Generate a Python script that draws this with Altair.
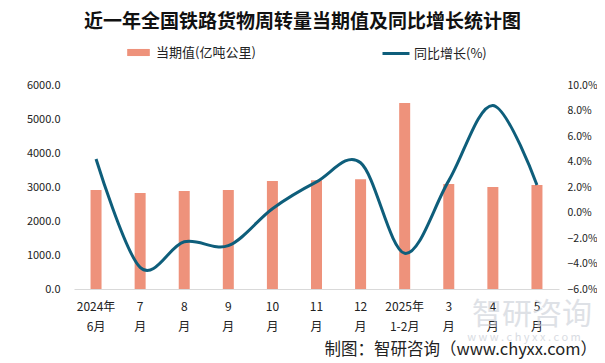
import altair as alt
import pandas as pd

categories = ["2024年|6月", "7|月", "8|月", "9|月", "10|月", "11|月", "12|月",
              "2025年|1-2月", "3|月", "4|月", "5|月"]
volume = [2910, 2820, 2880, 2910, 3180, 3200, 3230, 5470, 3090, 3000, 3060]
growth = [4.2, -4.3, -2.3, -2.6, 0.3, 2.4, 3.9, -3.2, 2.5, 8.4, 2.15]
vol_ticks = [0, 1000, 2000, 3000, 4000, 5000, 6000]
pct_ticks = [-6, -4, -2, 0, 2, 4, 6, 8, 10]

series_bar = "当期值(亿吨公里)"
series_line = "同比增长(%)"
title_text = "近一年全国铁路货物周转量当期值及同比增长统计图"
footer_text = "制图：智研咨询（www.chyxx.com）"

FONT = "Noto Sans CJK SC"
BAR = "#EE927B"
LINE = "#0E5E7B"

df = pd.DataFrame({"cat": categories, "vol": volume, "g": growth,
                   "s1": series_bar, "s2": series_line})

x_enc = alt.X("cat:N", sort=categories,
              scale=alt.Scale(paddingInner=0, paddingOuter=0),
              axis=alt.Axis(title=None, labelAngle=0,
                            labelExpr="split(datum.label, '|')",
                            ticks=False, domainColor="#d9d9d9", domainWidth=1,
                            labelFontSize=12, labelLineHeight=20,
                            labelPadding=12, labelColor="#222222", labelFont=FONT))

bars = alt.Chart(df).mark_bar(size=11).encode(
    x=x_enc,
    y=alt.Y("vol:Q", scale=alt.Scale(domain=[0, 6000]),
            axis=alt.Axis(title=None, values=vol_ticks, format=".1f",
                          domain=False, ticks=False, grid=False,
                          labelFontSize=11, labelPadding=14,
                          labelColor="#222222", labelFont=FONT)),
    fill=alt.Fill("s1:N", scale=alt.Scale(range=[BAR]),
                  legend=alt.Legend(title=None, orient="none", legendX=57,
                                    legendY=-40, padding=0,
                                    symbolType="M-1.6,-0.5H1.6V0.5H-1.6Z",
                                    symbolSize=200, symbolStrokeWidth=0,
                                    labelOffset=10, labelFontSize=13,
                                    labelFont=FONT, labelColor="#222222")),
)

line = alt.Chart(df).mark_line(strokeWidth=3, interpolate="cardinal").encode(
    x=x_enc,
    y=alt.Y("g:Q", scale=alt.Scale(domain=[-6, 10]),
            axis=alt.Axis(title=None, orient="right", values=pct_ticks,
                          labelExpr="format(datum.value, '.1f') + '%'",
                          domain=False, ticks=False, grid=False,
                          labelFontSize=10.5, labelPadding=8,
                          labelColor="#222222", labelFont=FONT)),
    stroke=alt.Stroke("s2:N", scale=alt.Scale(range=[LINE]),
                      legend=alt.Legend(title=None, orient="none", legendX=307,
                                        legendY=-46.5, padding=0,
                                        symbolType="stroke", symbolSize=729,
                                        symbolStrokeWidth=3, labelOffset=3,
                                        labelFontSize=13, labelFont=FONT,
                                        labelColor="#222222")),
)

wm = alt.Chart(pd.DataFrame({"t": ["智研咨询"]})).mark_text(
    align="center", baseline="middle", fontSize=30, font=FONT,
    color="#c9ced6", opacity=0.6).encode(
    text="t:N", x=alt.value(458), y=alt.value(230))
wm2 = alt.Chart(pd.DataFrame({"t": ["w w w . c h y x x . c o m"]})).mark_text(
    align="center", baseline="middle", fontSize=11, font=FONT,
    color="#c9ced6", opacity=0.7).encode(
    text="t:N", x=alt.value(450), y=alt.value(253))

footer = alt.Chart(pd.DataFrame({"t": [footer_text]})).mark_text(
    align="right", baseline="middle", fontSize=16.5, font=FONT,
    color="#222222").encode(text="t:N", x=alt.value(523), y=alt.value(265))

chart = alt.layer(bars, line, wm, wm2, footer).resolve_scale(
    y="independent", fill="independent", stroke="independent"
).properties(
    width=485, height=204,
    autosize=alt.AutoSizeParams(type="none"),
    padding={"left": 66, "top": 77, "right": 38, "bottom": 72},
    title=alt.TitleParams(title_text, fontSize=19, fontWeight="bold",
                          font=FONT, anchor="middle", frame="group",
                          dx=-14, offset=7, color="#111111"),
    background="white",
).configure_view(stroke=None)

chart.save("out.html", embed_options={"renderer": "svg", "actions": False})
